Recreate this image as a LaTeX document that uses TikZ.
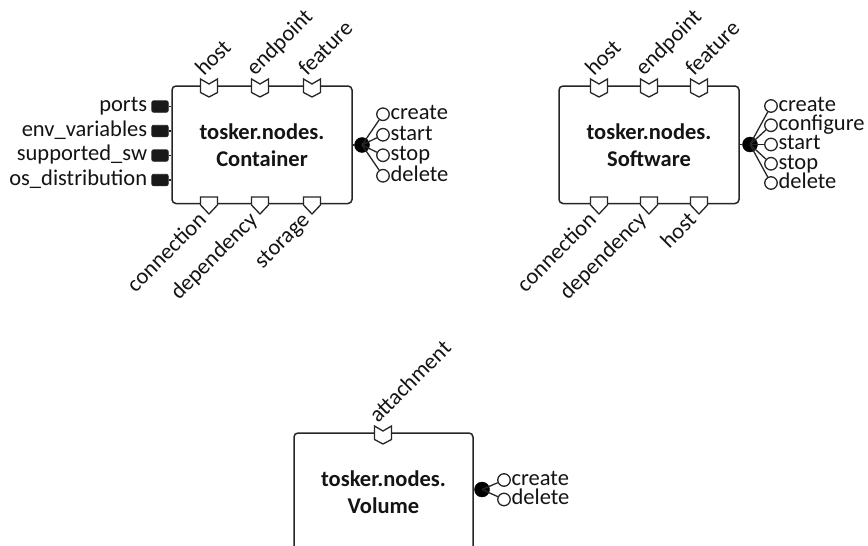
\documentclass[tikz,border=0pt]{standalone}
\usepackage{fontspec}
\setmainfont{Carlito}
\begin{document}
\begin{tikzpicture}[x=1pt,y=-1pt,
  lab/.style={font=\fontsize{22.5}{26}\selectfont, inner sep=0pt, text height=15pt, text depth=4.5pt, text=black!92},
  ttl/.style={font=\bfseries\fontsize{22.5}{27}\selectfont, align=center, text=black!92},
  comp/.style={draw=black!85, line width=1.5pt, rounded corners=4pt, fill=white, inner sep=0pt},
  mk/.style={draw=black!85, line width=1.3pt, fill=white, line join=miter},
  prop/.style={draw=black!85, fill=black!90, rounded corners=2pt, minimum width=16.5pt, minimum height=11.5pt, inner sep=0pt, line width=0.8pt},
  opdot/.style={circle, fill=black, draw=black, minimum size=15pt, inner sep=0pt},
  opc/.style={circle, draw=black!85, fill=white, line width=1.3pt, minimum size=12.5pt, inner sep=0pt},
  wire/.style={draw=black!85, line width=1.3pt},
  capmk/.pic={\path[mk] (-8.5,-7) -- (0,-2) -- (8.5,-7) -- (8.5,6.5) -- (0,11) -- (-8.5,6.5) -- cycle;},
  reqmk/.pic={\path[mk] (-8.5,-6.5) -- (8.5,-6.5) -- (8.5,1.5) -- (0,10.5) -- (-8.5,1.5) -- cycle;},
]
\clip (0,0) rectangle (868,546);
\fill[white] (0,0) rectangle (868,546);

% ---------------- Container ----------------
\node[comp, ttl, minimum width=180pt, minimum height=117.5pt] (cont) at (262,144.75) {tosker.nodes.\\Container};
\foreach \mx/\nm/\tx in {209/ch/host, 260/ce/endpoint, 312/cf/feature}{
  \pic at (\mx,86) {capmk};
  \node[lab, rotate=45, anchor=base west] (\nm) at (\mx-5,77) {\tx};
}
\foreach \mx/\nm/\tx in {209/rc/connection, 260/rd/dependency, 312/rs/storage}{
  \pic at (\mx,203.5) {reqmk};
  \node[lab, rotate=45, anchor=east] (\nm) at (\mx-5,217.5) {\tx};
}
\foreach \py/\nm/\tx in {106.5/p1/ports, 131/p2/env\_variables, 155.5/p3/supported\_sw, 180/p4/os\_distribution}{
  \node[prop] (\nm) at (160,\py) {};
  \draw[wire] (\nm.east) -- (\nm.east -| cont.west);
  \node[lab, anchor=east, xshift=-4pt] (\nm l) at (\nm.west) {\tx};
}
\node[opdot] (cd) at (362,145) {};
\draw[wire] (cont.east |- cd) -- (cd);
\foreach \py/\nm/\tx in {114.25/cc1/create, 134.75/cc2/start, 155.25/cc3/stop, 175.75/cc4/delete}{
  \node[opc] (\nm) at (383,\py) {};
  \draw[wire] (cd.center) -- (\nm);
  \node[lab, anchor=west, xshift=0.5pt] (\nm l) at (\nm.east) {\tx};
}

% ---------------- Software ----------------
\node[comp, ttl, minimum width=180pt, minimum height=117.5pt] (soft) at (649,144.75) {tosker.nodes.\\Software};
\foreach \mx/\nm/\tx in {599/sh/host, 649/se/endpoint, 699/sf/feature}{
  \pic at (\mx,86) {capmk};
  \node[lab, rotate=45, anchor=base west] (\nm) at (\mx-5,77) {\tx};
}
\foreach \mx/\nm/\tx in {599/qc/connection, 649/qd/dependency, 699/qh/host}{
  \pic at (\mx,203.5) {reqmk};
  \node[lab, rotate=45, anchor=east] (\nm) at (\mx-5,217.5) {\tx};
}
\node[opdot] (sd) at (750,144.5) {};
\draw[wire] (soft.east |- sd) -- (sd);
\foreach \py/\nm/\tx in {106/sc1/create, 125.25/sc2/configure, 144.5/sc3/start, 163.75/sc4/stop, 183/sc5/delete}{
  \node[opc] (\nm) at (771,\py) {};
  \draw[wire] (sd.center) -- (\nm);
  \node[lab, anchor=west, xshift=0.5pt] (\nm l) at (\nm.east) {\tx};
}

% ---------------- Volume ----------------
\node[comp, ttl, minimum width=179pt, minimum height=117.5pt] (vol) at (383.5,491.75) {tosker.nodes.\\Volume};
\pic at (383,433) {capmk};
\node[lab, rotate=45, anchor=base west] (va) at (378,424) {attachment};
\node[opdot] (vd) at (482,489.5) {};
\draw[wire] (vol.east |- vd) -- (vd);
\foreach \py/\nm/\tx in {480/vc1/create, 499.5/vc2/delete}{
  \node[opc] (\nm) at (504,\py) {};
  \draw[wire] (vd.center) -- (\nm);
  \node[lab, anchor=west, xshift=0.5pt] (\nm l) at (\nm.east) {\tx};
}
\end{tikzpicture}
\end{document}
